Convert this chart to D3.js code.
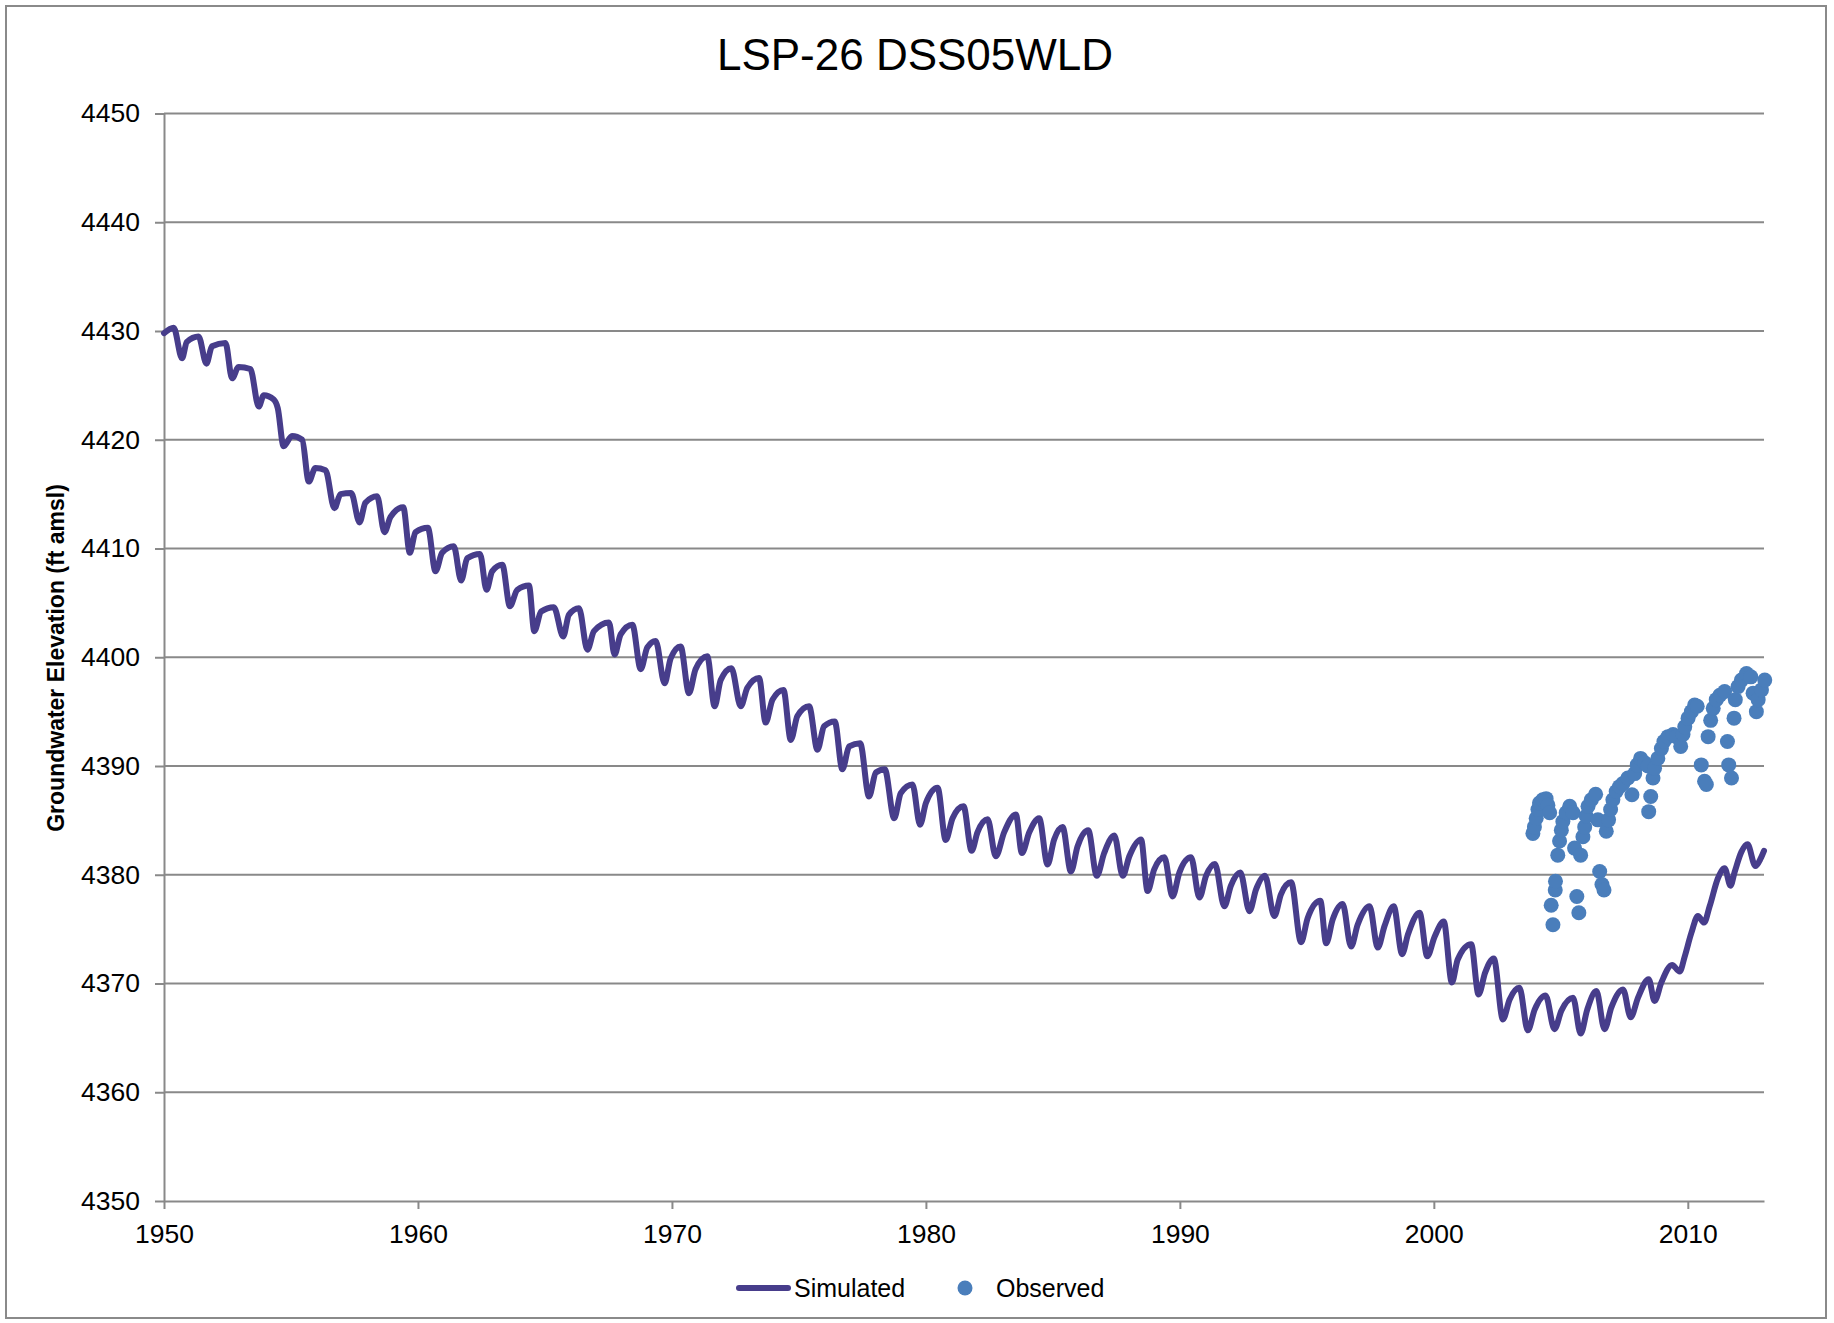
<!DOCTYPE html>
<html>
<head>
<meta charset="utf-8">
<script src="https://cdn.jsdelivr.net/npm/d3@7"></script>
<style>
  html, body { margin: 0; padding: 0; background: #ffffff; }
  svg { display: block; }
  text { font-family: "Liberation Sans", Arial, sans-serif; fill: #000; }
</style>
</head>
<body>
<svg id="chart" width="1834" height="1323"></svg>
<script>
// ---------------- data ----------------
const chartTitle = "LSP-26 DSS05WLD";
const yAxisTitle = "Groundwater Elevation (ft amsl)";
const seriesNames = ["Simulated", "Observed"];
const xTicks = [1950, 1960, 1970, 1980, 1990, 2000, 2010];
const yTicks = [4350, 4360, 4370, 4380, 4390, 4400, 4410, 4420, 4430, 4440, 4450];

// Simulated: turning points (decimal year, ft amsl)
const simYears = [
  1950.00, 1950.38, 1950.71, 1950.90, 1951.36, 1951.67, 1951.89, 1952.42, 1952.68, 1952.94,
  1953.40, 1953.73, 1953.93, 1954.32, 1954.48, 1954.71, 1955.04, 1955.44, 1955.70, 1955.96,
  1956.36, 1956.71, 1956.95, 1957.37, 1957.70, 1957.93, 1958.39, 1958.68, 1958.92, 1959.42,
  1959.68, 1959.90, 1960.39, 1960.69, 1960.95, 1961.41, 1961.70, 1961.94, 1962.44, 1962.70,
  1962.92, 1963.32, 1963.62, 1963.91, 1964.37, 1964.58, 1964.85, 1965.35, 1965.72, 1965.94,
  1966.34, 1966.67, 1966.93, 1967.52, 1967.74, 1967.98, 1968.44, 1968.77, 1969.03, 1969.36,
  1969.71, 1969.95, 1970.34, 1970.67, 1970.93, 1971.39, 1971.68, 1971.92, 1972.34, 1972.71,
  1972.97, 1973.43, 1973.69, 1973.96, 1974.39, 1974.68, 1974.94, 1975.40, 1975.73, 1975.99,
  1976.41, 1976.71, 1976.98, 1977.41, 1977.76, 1978.03, 1978.38, 1978.75, 1979.01, 1979.47,
  1979.77, 1980.00, 1980.46, 1980.78, 1981.05, 1981.48, 1981.80, 1982.03, 1982.43, 1982.75,
  1983.08, 1983.54, 1983.78, 1984.07, 1984.46, 1984.79, 1985.05, 1985.38, 1985.71, 1985.97,
  1986.39, 1986.73, 1987.02, 1987.42, 1987.75, 1988.01, 1988.47, 1988.73, 1988.99, 1989.39,
  1989.71, 1989.98, 1990.44, 1990.77, 1991.03, 1991.38, 1991.75, 1992.01, 1992.38, 1992.74,
  1993.00, 1993.35, 1993.72, 1993.98, 1994.38, 1994.77, 1995.03, 1995.53, 1995.76, 1996.02,
  1996.41, 1996.74, 1997.00, 1997.47, 1997.79, 1998.06, 1998.42, 1998.75, 1998.98, 1999.44,
  1999.74, 2000.03, 2000.39, 2000.71, 2000.94, 2001.47, 2001.76, 2002.02, 2002.36, 2002.72,
  2002.98, 2003.37, 2003.70, 2003.97, 2004.40, 2004.75, 2005.02, 2005.48, 2005.78, 2006.04,
  2006.40, 2006.72, 2006.99, 2007.45, 2007.75, 2008.04, 2008.46, 2008.69, 2008.96, 2009.38,
  2009.68, 2009.88, 2010.14, 2010.40, 2010.64, 2010.86, 2011.19, 2011.45, 2011.68, 2011.85,
  2012.11, 2012.35, 2012.66, 2012.87, 2013.00
];
const simValues = [
  4429.8, 4430.3, 4427.5, 4429.0, 4429.5, 4427.0, 4428.6, 4428.9, 4425.65, 4426.7,
  4426.5, 4423.05, 4424.1, 4423.7, 4422.9, 4419.4, 4420.35, 4420.0, 4416.15, 4417.4,
  4417.2, 4413.7, 4415.0, 4415.1, 4412.4, 4414.2, 4414.8, 4411.5, 4412.9, 4413.8,
  4409.6, 4411.5, 4411.9, 4407.9, 4409.6, 4410.2, 4407.05, 4409.1, 4409.5, 4406.2,
  4407.9, 4408.5, 4404.7, 4406.2, 4406.6, 4402.4, 4404.2, 4404.6, 4401.9, 4403.9,
  4404.5, 4400.7, 4402.4, 4403.2, 4400.25, 4402.1, 4403.0, 4398.9, 4400.9, 4401.5,
  4397.6, 4399.9, 4401.0, 4396.7, 4398.9, 4400.1, 4395.5, 4397.9, 4399.0, 4395.5,
  4397.2, 4398.1, 4394.0, 4396.1, 4397.0, 4392.4, 4394.6, 4395.5, 4391.5, 4393.65,
  4394.1, 4389.7, 4391.8, 4392.1, 4387.2, 4389.4, 4389.7, 4385.2, 4387.5, 4388.3,
  4384.6, 4386.6, 4388.0, 4383.2, 4385.2, 4386.3, 4382.2, 4383.9, 4385.1, 4381.7,
  4383.9, 4385.55, 4382.0, 4383.9, 4385.2, 4380.95, 4383.25, 4384.4, 4380.3, 4382.6,
  4384.1, 4379.9, 4382.0, 4383.6, 4379.9, 4381.7, 4383.25, 4378.5, 4380.5, 4381.6,
  4378.0, 4380.2, 4381.6, 4377.9, 4379.9, 4381.0, 4377.1, 4379.0, 4380.2, 4376.65,
  4378.65, 4379.9, 4376.2, 4378.2, 4379.3, 4373.8, 4376.0, 4377.6, 4373.7, 4375.9,
  4377.3, 4373.4, 4375.4, 4377.1, 4373.3, 4375.3, 4377.1, 4372.7, 4374.5, 4376.5,
  4372.5, 4374.3, 4375.7, 4370.1, 4372.2, 4373.6, 4369.0, 4371.0, 4372.3, 4366.7,
  4368.5, 4369.6, 4365.7, 4367.6, 4368.9, 4365.8, 4367.5, 4368.7, 4365.4, 4367.6,
  4369.3, 4365.8, 4367.8, 4369.45, 4366.9, 4368.7, 4370.4, 4368.4, 4370.1, 4371.7,
  4371.1, 4372.5, 4374.65, 4376.2, 4375.6, 4377.1, 4379.7, 4380.6, 4379.0, 4380.3,
  4382.1, 4382.8, 4380.8, 4381.5, 4382.2
];

const obsYears = [
  2003.90, 2003.96, 2004.03, 2004.10, 2004.16, 2004.29, 2004.42, 2004.49, 2004.56, 2004.62,
  2004.69, 2004.78, 2004.79, 2004.88, 2004.95, 2005.02, 2005.08, 2005.21, 2005.35, 2005.48,
  2005.54, 2005.63, 2005.71, 2005.78, 2005.87, 2005.94, 2006.00, 2006.07, 2006.20, 2006.37,
  2006.46, 2006.53, 2006.62, 2006.70, 2006.79, 2006.88, 2006.96, 2007.05, 2007.18, 2007.31,
  2007.45, 2007.64, 2007.80, 2007.91, 2008.01, 2008.14, 2008.30, 2008.43, 2008.46, 2008.54,
  2008.63, 2008.69, 2008.82, 2008.96, 2009.06, 2009.22, 2009.42, 2009.55, 2009.72, 2009.81,
  2009.88, 2010.01, 2010.14, 2010.27, 2010.37, 2010.53, 2010.66, 2010.73, 2010.80, 2010.90,
  2011.00, 2011.12, 2011.26, 2011.45, 2011.56, 2011.61, 2011.72, 2011.82, 2011.87, 2011.98,
  2012.11, 2012.31, 2012.48, 2012.57, 2012.70, 2012.77, 2012.90, 2013.03
];
const obsValues = [
  4383.8, 4384.4, 4385.2, 4386.0, 4386.6, 4386.9, 4387.0, 4386.4, 4385.7, 4377.2,
  4375.4, 4378.6, 4379.4, 4381.8, 4383.1, 4384.1, 4384.9, 4385.7, 4386.3, 4385.7,
  4382.45, 4378.0, 4376.5, 4381.8, 4383.5, 4384.4, 4385.4, 4386.3, 4386.9, 4387.4,
  4385.05, 4380.3, 4379.1, 4378.6, 4384.0, 4385.05, 4386.0, 4386.9, 4387.65, 4388.1,
  4388.4, 4388.9, 4387.35, 4389.3, 4390.1, 4390.7, 4390.3, 4390.0, 4385.8, 4387.2,
  4388.9, 4389.8, 4390.7, 4391.6, 4392.25, 4392.7, 4392.9, 4392.7, 4391.8, 4392.9,
  4393.6, 4394.4, 4395.0, 4395.6, 4395.5, 4390.1, 4388.6, 4388.3, 4392.7, 4394.2,
  4395.3, 4396.1, 4396.5, 4396.85, 4392.25, 4390.1, 4388.9, 4394.4, 4396.1, 4397.3,
  4397.9, 4398.5, 4398.2, 4396.7, 4395.0, 4396.1, 4397.0, 4397.9
];

// ---------------- styles ----------------
const simColor = "#473d8b";
const obsColor = "#4a7ebb";
const gridColor = "#898989";

// ---------------- chart ----------------
const svg = d3.select("#chart");
const plot = { left: 164, right: 1764, top: 113.5, bottom: 1201 };

const x = d3.scaleLinear().domain([1950, 2013]).range([plot.left, plot.right]);
const y = d3.scaleLinear().domain([4350, 4450]).range([plot.bottom, plot.top]);

// outer border
svg.append("rect")
  .attr("x", 6).attr("y", 6).attr("width", 1820).attr("height", 1312)
  .attr("fill", "none").attr("stroke", "#8a8a8a").attr("stroke-width", 2);

// title
svg.append("text")
  .attr("x", 915).attr("y", 70)
  .attr("text-anchor", "middle")
  .style("font-size", "44px")
  .text(chartTitle);

// horizontal gridlines
svg.append("g").selectAll("line")
  .data(yTicks.filter(v => v !== 4350))
  .join("line")
  .attr("x1", plot.left).attr("x2", plot.right)
  .attr("y1", d => y(d)).attr("y2", d => y(d))
  .attr("stroke", gridColor).attr("stroke-width", 2);

// y axis
const yAxis = svg.append("g")
  .attr("transform", `translate(${plot.left},0)`)
  .call(d3.axisLeft(y).tickValues(yTicks).tickSize(9).tickSizeOuter(0).tickPadding(15).tickFormat(d3.format("d")));
yAxis.select(".domain").attr("stroke", gridColor).attr("stroke-width", 2);
yAxis.selectAll(".tick line").attr("stroke", gridColor).attr("stroke-width", 2);
yAxis.selectAll(".tick text").style("font-size", "26.5px").style("font-family", '"Liberation Sans", Arial, sans-serif').attr("fill", "#000");

// x axis
const xAxis = svg.append("g")
  .attr("transform", `translate(0,${plot.bottom})`)
  .call(d3.axisBottom(x).tickValues(xTicks).tickSize(8).tickSizeOuter(0).tickPadding(15).tickFormat(d3.format("d")));
xAxis.select(".domain").attr("stroke", gridColor).attr("stroke-width", 2);
xAxis.selectAll(".tick line").attr("stroke", gridColor).attr("stroke-width", 2);
xAxis.selectAll(".tick text").style("font-size", "26.5px").style("font-family", '"Liberation Sans", Arial, sans-serif').attr("fill", "#000");

// y axis title
svg.append("text")
  .attr("transform", "translate(64,658) rotate(-90)")
  .attr("text-anchor", "middle")
  .style("font-size", "23px")
  .style("font-weight", "bold")
  .text(yAxisTitle);

// simulated line
const simData = d3.zip(simYears, simValues);
const line = d3.line()
  .x(d => x(d[0]))
  .y(d => y(d[1]))
  .curve(d3.curveMonotoneX);
svg.append("path")
  .datum(simData)
  .attr("d", line)
  .attr("fill", "none")
  .attr("stroke", simColor)
  .attr("stroke-width", 6)
  .attr("stroke-linejoin", "round")
  .attr("stroke-linecap", "round");

// observed points
const obsData = d3.zip(obsYears, obsValues);
svg.append("g").selectAll("circle")
  .data(obsData)
  .join("circle")
  .attr("cx", d => x(d[0]))
  .attr("cy", d => y(d[1]))
  .attr("r", 7.5)
  .attr("fill", obsColor);

// legend
const legend = svg.append("g");
legend.append("line")
  .attr("x1", 739).attr("x2", 788).attr("y1", 1288).attr("y2", 1288)
  .attr("stroke", simColor).attr("stroke-width", 6).attr("stroke-linecap", "round");
legend.append("text")
  .attr("x", 794).attr("y", 1297)
  .style("font-size", "25px")
  .text(seriesNames[0]);
legend.append("circle")
  .attr("cx", 965).attr("cy", 1288).attr("r", 7.5).attr("fill", obsColor);
legend.append("text")
  .attr("x", 996).attr("y", 1297)
  .style("font-size", "25px")
  .text(seriesNames[1]);
</script>
</body>
</html>
